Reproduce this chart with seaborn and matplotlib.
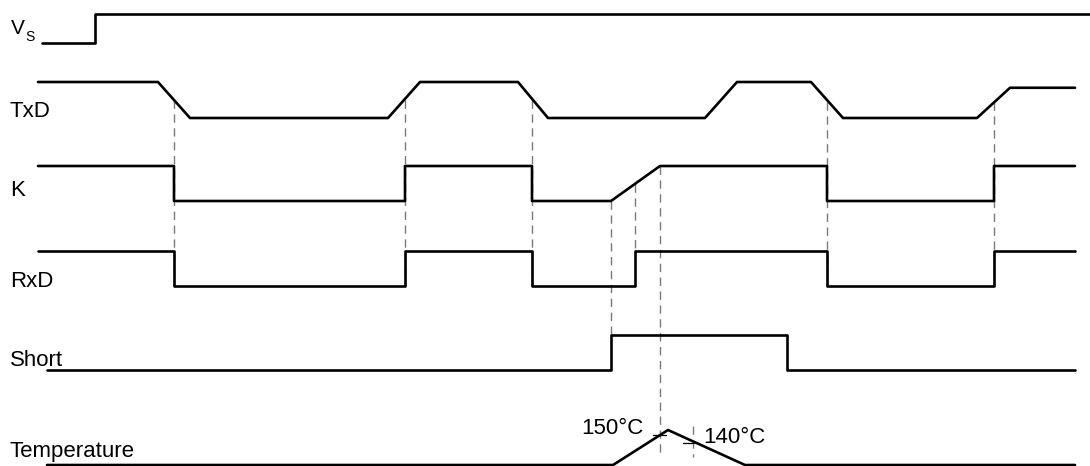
import pandas as pd
import seaborn as sns
import matplotlib.pyplot as plt

# signal data: time (px along the diagram) and logic level (0 = low, 1 = high)
vs_t = [42, 95, 95, 1090]
vs_lvl = [0, 0, 1, 1]

txd_t = [38, 158, 190, 388, 420, 518, 548, 705, 737, 811, 843, 977, 1010, 1075]
txd_lvl = [1, 1, 0, 0, 1, 1, 0, 0, 1, 1, 0, 0, 0.84, 0.84]

k_t = [38, 174, 174, 405, 405, 532, 532, 611, 660, 827, 827, 994, 994, 1075]
k_lvl = [1, 1, 0, 0, 1, 1, 0, 0, 1, 1, 0, 0, 1, 1]

rxd_t = [38, 174, 174, 405, 405, 532, 532, 635, 635, 827, 827, 994, 994, 1075]
rxd_lvl = [1, 1, 0, 0, 1, 1, 0, 0, 1, 1, 0, 0, 1, 1]

short_t = [47, 611, 611, 787, 787, 1075]
short_lvl = [0, 0, 1, 1, 0, 0]

temp_t = [47, 613, 668, 745, 1075]
temp_lvl = [0, 0, 1, 0, 0]

# row layout: baseline y (low level), swing
rows = {
    'Vs': (43, 29),
    'TxD': (118, 36),
    'K': (201, 35),
    'RxD': (286, 35),
    'Short': (370, 35),
    'Temperature': (465, 35),
}

# dashed timing markers: time, top y, bottom y
markers = [
    (174, 100, 286), (405, 100, 286), (532, 100, 286),
    (827, 102, 286), (994, 102, 286),
    (611, 201, 336), (635, 184, 251), (660, 166, 457), (693, 426, 457),
]

sns.set_theme(style="white")
plt.rcParams['font.family'] = ['Liberation Sans', 'DejaVu Sans']
plt.rcParams['text.color'] = 'black'

fig = plt.figure(figsize=(10.9, 4.66), dpi=100)
ax = fig.add_axes([0, 0, 1, 1])

signals = {
    'Vs': (vs_t, vs_lvl),
    'TxD': (txd_t, txd_lvl),
    'K': (k_t, k_lvl),
    'RxD': (rxd_t, rxd_lvl),
    'Short': (short_t, short_lvl),
    'Temperature': (temp_t, temp_lvl),
}

for name, (t, lvl) in signals.items():
    base, swing = rows[name]
    df = pd.DataFrame({'t': t, 'y': [base - v * swing for v in lvl]})
    sns.lineplot(data=df, x='t', y='y', sort=False, estimator=None,
                 color='black', linewidth=1.9, ax=ax)

for x, y0, y1 in markers:
    ax.plot([x, x], [y0, y1], color='#7a7a7a', linewidth=1.0,
            linestyle=(0, (6, 4)), zorder=1)

ax.set_xlim(0, 1090)
ax.set_ylim(466, 0)
ax.axis('off')

# labels
fs = 16
ax.text(11, 34, 'V', fontsize=15, va='baseline', ha='left')
ax.text(25, 41, 'S', fontsize=10, va='baseline', ha='left')
ax.text(10, 117, 'TxD', fontsize=fs, va='baseline', ha='left')
ax.text(10, 196, 'K', fontsize=fs, va='baseline', ha='left')
ax.text(10, 287, 'RxD', fontsize=fs, va='baseline', ha='left')
ax.text(10, 366, 'Short', fontsize=fs, va='baseline', ha='left')
ax.text(10, 457, 'Temperature', fontsize=fs, va='baseline', ha='left')

# temperature thresholds
ax.plot([653, 666], [435, 435], color='black', linewidth=0.9)
ax.plot([683, 694], [443, 443], color='black', linewidth=0.9)
ax.text(581, 434, '150°C', fontsize=fs, va='baseline', ha='left')
ax.text(703, 443, '140°C', fontsize=fs, va='baseline', ha='left')

fig.savefig('out.png', dpi=100)
